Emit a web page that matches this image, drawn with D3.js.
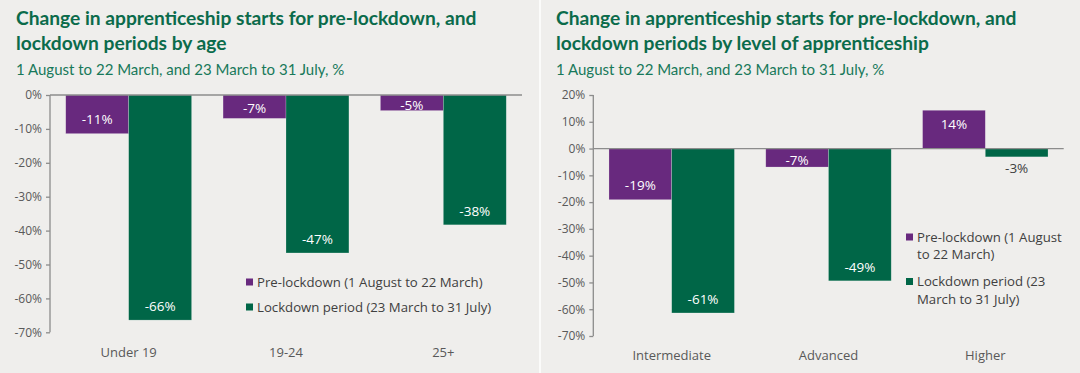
<!DOCTYPE html>
<html lang="en">
<head>
<meta charset="UTF-8">
<title>Apprenticeship starts</title>
<script src="https://d3js.org/d3.v7.min.js"></script>
<style>
  body { margin: 0; background: #efeeec; }
  svg { display: block; }
</style>
</head>
<body>
<script>
    // data
    const ageCategories = ["Under 19", "19-24", "25+"];
    const agePre = [-11.4, -6.9, -4.6];
    const ageLockdown = [-66.4, -46.6, -38.3];
    const ageTicks = [0, -10, -20, -30, -40, -50, -60, -70];

    const levelCategories = ["Intermediate", "Advanced", "Higher"];
    const levelPre = [-19.1, -6.9, 14.3];
    const levelLockdown = [-61.4, -49.4, -3.1];
    const levelTicks = [20, 10, 0, -10, -20, -30, -40, -50, -60, -70];

    const subtitle = "1 August to 22 March, and 23 March to 31 July, %";

    const purple = "#68297e";
    const green = "#006647";

    const W = 1080, H = 373;
    const svg = d3.select("body").append("svg")
        .attr("width", W)
        .attr("height", H);

    svg.append("rect").attr("width", W).attr("height", H).attr("fill", "#efeeec");
    // divider between the panels
    svg.append("line")
        .attr("x1", 540).attr("x2", 540).attr("y1", 0).attr("y2", H)
        .attr("stroke", "#fbfbfa").attr("stroke-width", 2);

    function drawPanel(opt) {
        const g = svg.append("g");

        // titles
        opt.title.forEach((t, i) => {
            g.append("text")
                .attr("x", opt.left + 16)
                .attr("y", 25 + i * 25)
                .attr("font-family", "Lato, sans-serif")
                .attr("font-weight", 700)
                .attr("font-size", 19.2)
                .attr("fill", "#0b6b4b")
                .text(t);
        });
        g.append("text")
            .attr("x", opt.left + 16)
            .attr("y", 75)
            .attr("font-family", "Lato, sans-serif")
            .attr("font-size", 15)
            .attr("fill", "#18795a")
            .text(subtitle);

        const x = d3.scaleBand()
            .domain(opt.categories)
            .range([opt.x0, opt.x1])
            .paddingInner(0.2)
            .paddingOuter(0.1);
        const x2 = d3.scaleBand()
            .domain([0, 1])
            .range([0, x.bandwidth()]);
        const y = d3.scaleLinear()
            .domain(opt.domain)
            .range(opt.yRange);

        // y axis
        const yAxis = d3.axisLeft(y)
            .tickValues(opt.ticks)
            .tickSize(4)
            .tickFormat(d => d + "%");
        const ya = g.append("g")
            .attr("transform", "translate(" + opt.x0 + ",0)")
            .call(yAxis);
        ya.selectAll("path, line").attr("stroke", "#8c8c8c").attr("stroke-width", 1.3);
        ya.selectAll("text")
            .attr("font-family", "Open Sans, sans-serif")
            .attr("font-size", 12)
            .attr("fill", "#595959")
            .attr("x", -8);
        ya.select(".domain").attr("d", "M0," + y(opt.domain[0]) + "V" + y(opt.domain[1]));

        // bars
        const series = [
            { values: opt.pre, color: purple },
            { values: opt.lockdown, color: green }
        ];
        const zero = y(0);
        series.forEach((s, si) => {
            const bars = g.append("g");
            s.values.forEach((v, i) => {
                const bx = x(opt.categories[i]) + x2(si);
                const top = Math.min(y(v), zero);
                const len = Math.abs(y(v) - zero);
                bars.append("rect")
                    .attr("x", bx)
                    .attr("y", top)
                    .attr("width", x2.bandwidth())
                    .attr("height", len)
                    .attr("fill", s.color)
                    .attr("stroke", "rgba(255,255,255,0.35)")
                    .attr("stroke-width", 0.6);

                // value labels
                const label = Math.round(v) + "%";
                let cy, fill = "#ffffff";
                if (len < 12) {
                    cy = (v < 0 ? y(v) + 11 : y(v) - 11);
                    fill = "#404040";
                } else if (v < 0) {
                    cy = Math.max(y(v) - 14, (zero + y(v)) / 2 + 2);
                } else {
                    cy = Math.min(y(v) + 14, (zero + y(v)) / 2 - 2);
                }
                bars.append("text")
                    .attr("x", bx + x2.bandwidth() / 2)
                    .attr("y", cy)
                    .attr("dy", "0.35em")
                    .attr("text-anchor", "middle")
                    .attr("font-family", "Open Sans, sans-serif")
                    .attr("font-size", 13.5)
                    .attr("fill", fill)
                    .text(label);
            });
        });

        // zero line
        g.append("line")
            .attr("x1", opt.x0).attr("x2", opt.x1)
            .attr("y1", zero).attr("y2", zero)
            .attr("stroke", "#8c8c8c")
            .attr("stroke-width", 1.3);

        // category labels
        opt.categories.forEach(c => {
            g.append("text")
                .attr("x", x(c) + x.bandwidth() / 2)
                .attr("y", opt.catY)
                .attr("dy", "0.35em")
                .attr("text-anchor", "middle")
                .attr("font-family", "Open Sans, sans-serif")
                .attr("font-size", 13)
                .attr("fill", "#595959")
                .text(c);
        });

        // legend
        let ly = opt.legendY;
        opt.legend.forEach((lines, li) => {
            g.append("rect")
                .attr("x", opt.legendX)
                .attr("y", ly - 3.5)
                .attr("width", 7)
                .attr("height", 7)
                .attr("fill", li === 0 ? purple : green);
            lines.forEach((t, k) => {
                g.append("text")
                    .attr("x", opt.legendX + 11)
                    .attr("y", ly + k * opt.lineStep)
                    .attr("dy", "0.35em")
                    .attr("font-family", "Open Sans, sans-serif")
                    .attr("font-size", 13.2)
                    .attr("fill", "#404040")
                    .text(t);
            });
            ly += lines.length * opt.lineStep + opt.legendGap;
        });
    }

    drawPanel({
        left: 0,
        title: ["Change in apprenticeship starts for pre-lockdown, and",
                "lockdown periods by age"],
        categories: ageCategories,
        pre: agePre,
        lockdown: ageLockdown,
        ticks: ageTicks,
        domain: [-70, 0],
        yRange: [332.3, 95],
        x0: 50, x1: 522,
        catY: 352,
        legend: [["Pre-lockdown (1 August to 22 March)"],
                 ["Lockdown period (23 March to 31 July)"]],
        legendX: 246,
        legendY: 282,
        lineStep: 17.5,
        legendGap: 7.5
    });

    drawPanel({
        left: 540,
        title: ["Change in apprenticeship starts for pre-lockdown, and",
                "lockdown periods by level of apprenticeship"],
        categories: levelCategories,
        pre: levelPre,
        lockdown: levelLockdown,
        ticks: levelTicks,
        domain: [-70, 20],
        yRange: [336, 95],
        x0: 593.3, x1: 1063.7,
        catY: 355,
        legend: [["Pre-lockdown (1 August", "to 22 March)"],
                 ["Lockdown period (23", "March to 31 July)"]],
        legendX: 906,
        legendY: 237,
        lineStep: 17.5,
        legendGap: 9.5
    });
</script>
</body>
</html>
